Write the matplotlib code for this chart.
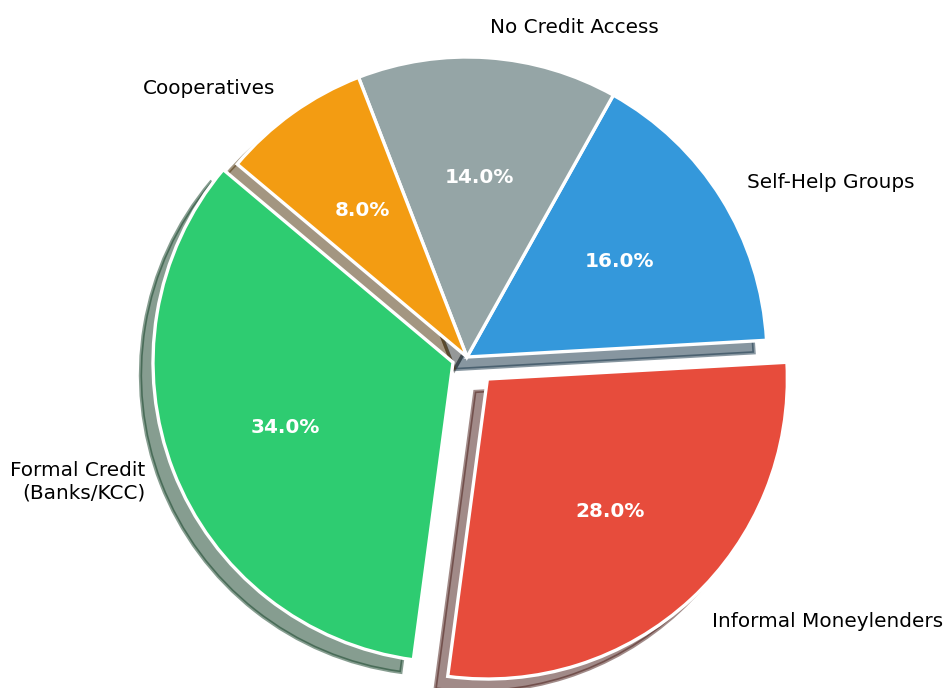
import matplotlib
matplotlib.use("Agg")
import matplotlib.pyplot as plt

# rural credit sources, share of households (%)
sources = ["Formal Credit\n(Banks/KCC)", "Informal Moneylenders", "Self-Help Groups",
           "No Credit Access", "Cooperatives"]
shares = [34, 28, 16, 14, 8]
colors = ["#2ecc71", "#e74c3c", "#3498db", "#95a5a6", "#f39c12"]
explode = (0.05, 0.1, 0, 0, 0)

fig = plt.figure(figsize=(946 / 150, 688 / 150), dpi=150)
ax = fig.add_axes([0, 0, 1, 1])

wedges, texts, autotexts = ax.pie(
    shares, labels=sources, colors=colors, explode=explode,
    autopct="%1.1f%%", startangle=140, shadow=True,
    wedgeprops={"edgecolor": "white", "linewidth": 1.6},
    textprops={"fontsize": 9.6},
)
for t in autotexts:
    t.set_color("white")
    t.set_fontweight("bold")

ax.set_xlim(-467 / 300, 479 / 300)
ax.set_ylim(-331 / 300, 357 / 300)
ax.set_aspect("equal")

fig.savefig("out.png", dpi=150)
